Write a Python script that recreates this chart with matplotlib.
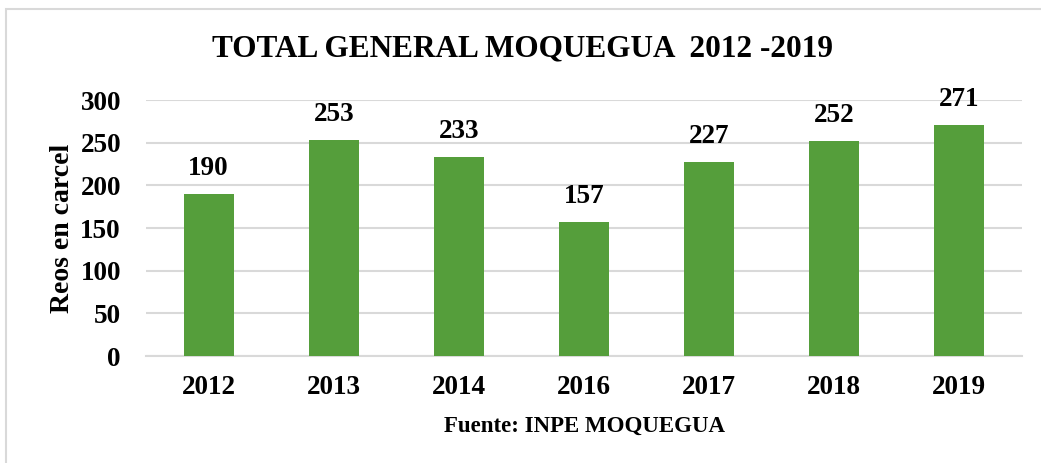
import matplotlib.pyplot as plt
from matplotlib.patches import Rectangle

# ── data ─────────────────────────────────────────────────────────
years = ["2012", "2013", "2014", "2016", "2017", "2018", "2019"]
reos = [190, 253, 233, 157, 227, 252, 271]
y_ticks = [0, 50, 100, 150, 200, 250, 300]

BAR = "#559E3B"
GRID = "#D9D9D9"

plt.rcParams["font.family"] = ["Liberation Serif", "DejaVu Serif"]
plt.rcParams["font.weight"] = "bold"

W, H = 1041, 463
fig = plt.figure(figsize=(W / 100, H / 100), dpi=100)

# chart frame (cropped on right/bottom)
fig.patches.append(Rectangle((6 / W, -0.1), 1.2, 1 - 9 / H + 0.1,
                             transform=fig.transFigure, fill=False,
                             edgecolor=GRID, linewidth=1.5))

ax = fig.add_axes([146 / W, 1 - 356 / H, (1022 - 146) / W, (356 - 100) / H])
x = range(len(years))
ax.bar(x, reos, width=0.4, color=BAR, zorder=3)
for xi, v in zip(x, reos):
    ax.text(xi, v + 15, str(v), ha="center", va="bottom",
            fontsize=19.5, fontweight="bold", clip_on=False)

ax.set_xlim(-0.5, len(years) - 0.5)
ax.set_ylim(0, 300)
ax.set_yticks(y_ticks)
ax.set_xticks(list(x))
ax.set_xticklabels(years)
ax.tick_params(axis="both", length=0, labelsize=19.5)
ax.tick_params(axis="y", pad=18)
ax.tick_params(axis="x", pad=14)
ax.grid(axis="y", color=GRID, linewidth=1.5, zorder=0)
for s in ["top", "right", "left"]:
    ax.spines[s].set_visible(False)
ax.spines["bottom"].set_color(GRID)
ax.spines["bottom"].set_linewidth(1.5)

ax.set_ylabel("Reos en carcel", fontsize=20, fontweight="bold", labelpad=4)

fig.text(523 / W, 1 - 49 / H, "TOTAL GENERAL MOQUEGUA  2012 -2019",
         ha="center", va="center", fontsize=22.5, fontweight="bold")
fig.text(584 / W, 1 - 426 / H, "Fuente: INPE MOQUEGUA",
         ha="center", va="center", fontsize=16.5, fontweight="bold")

fig.savefig("out.png", dpi=100)
